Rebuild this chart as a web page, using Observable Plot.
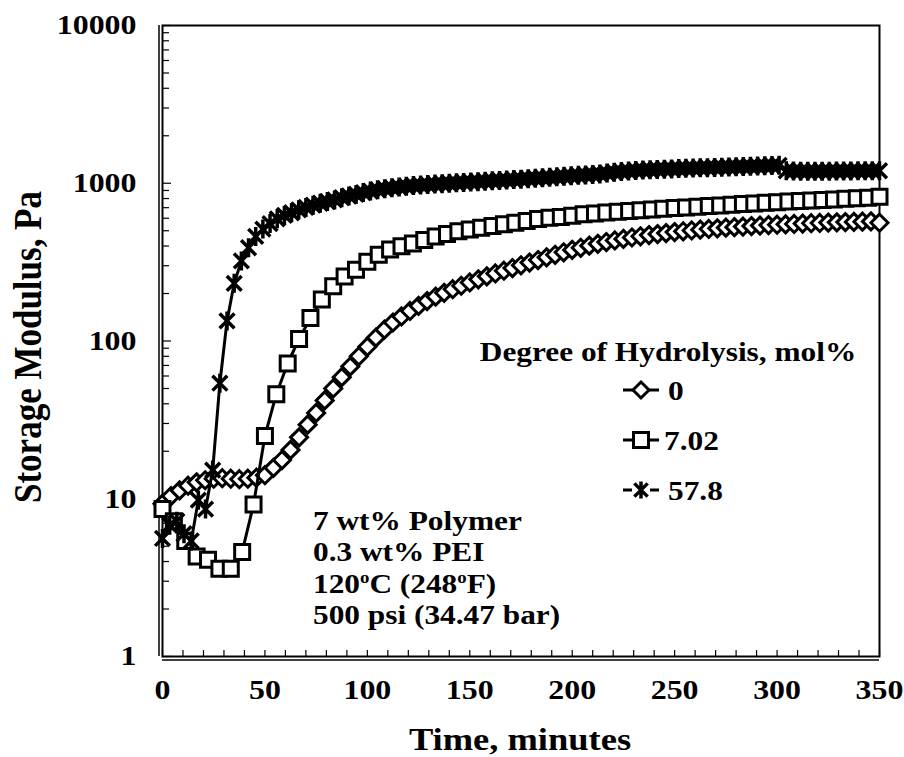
<!DOCTYPE html>
<html>
<head>
<meta charset="utf-8">
<script src="https://cdn.jsdelivr.net/npm/d3@7"></script>
<script src="https://cdn.jsdelivr.net/npm/@observablehq/plot@0.6"></script>
<style>
  body { margin: 0; background: #fff; }
  #chart svg { display: block; }
</style>
</head>
<body>
<div id="chart"></div>
<script>
// Degree of hydrolysis (mol%) of each polymer sample
const series = ["0", "7.02", "57.8"];

// Sampling times (minutes) of each rheometer run
const time0 = d3.range(0, 350.001, 50 / 12);
const time1 = d3.range(0, 350.001, 50 / 9);
const time2 = d3.range(0, 350.001, 3.5);

// Storage modulus G' (Pa), 0 mol% hydrolysis
const modulus0 = [9.3, 10.4, 11.3, 12.1, 12.7, 13.1, 13.4, 13.5, 13.4, 13.3,
  13.4, 13.6, 14.1, 15.7, 17.6, 20.4, 24.5, 29.5, 35, 42,
  50, 59, 69, 80, 92, 105, 118, 131, 143, 155,
  167, 179, 191, 202, 213, 224, 235, 246, 257, 268,
  279, 290, 302, 314, 326, 339, 352, 365, 378, 390,
  402, 413, 424, 434, 444, 453, 461, 469, 476, 483,
  490, 496, 502, 508, 513, 518, 523, 527, 531, 535,
  539, 543, 546, 549, 552, 555, 558, 560, 563, 565,
  567, 569, 571, 573, 562];

// Storage modulus G' (Pa), 7.02 mol% hydrolysis
const modulus1 = [8.6, 7.2, 5.4, 4.3, 4.1, 3.6, 3.6, 4.6, 9.2, 25,
  46, 72, 103, 140, 183, 222, 256, 283, 318, 352,
  380, 398, 415, 437, 460, 476, 496, 510, 523, 535,
  550, 562, 576, 593, 605, 612, 622, 637, 644, 652,
  660, 667, 674, 681, 688, 696, 703, 710, 717, 724,
  731, 738, 745, 752, 759, 765, 771, 778, 784, 790,
  797, 803, 810, 821];

// Storage modulus G' (Pa), 57.8 mol% hydrolysis
const modulus2 = [5.6, 6.8, 7.2, 6.0, 5.4, 9.8, 8.6, 15.2, 54, 134,
  232, 322, 390, 460, 512, 555, 595, 625, 650, 678,
  703, 726, 747, 766, 784, 810, 830, 850, 873, 892,
  910, 924, 936, 947, 957, 966, 974, 981, 988, 994,
  1000, 1006, 1012, 1018, 1024, 1030, 1036, 1042, 1048, 1055,
  1062, 1069, 1076, 1083, 1090, 1098, 1106, 1114, 1122, 1130,
  1138, 1146, 1160, 1175, 1185, 1195, 1205, 1212, 1218, 1223,
  1228, 1233, 1238, 1243, 1248, 1252, 1256, 1260, 1264, 1268,
  1272, 1276, 1280, 1285, 1290, 1295, 1300, 1200, 1195, 1192,
  1190, 1190, 1192, 1193, 1195, 1196, 1197, 1198, 1199, 1200, 1200];

// Axis ticks
const xLabelTicks = [0, 50, 100, 150, 200, 250, 300, 350];
const xMinorTicks = d3.range(0, 351, 10);
const yLabelTicks = [1, 10, 100, 1000, 10000];
const yMinorTicks = [1, 10, 100, 1000].flatMap(d => [2, 3, 4, 5, 6, 7, 8, 9].map(k => k * d));

const rows = (times, values) => times.map((t, i) => ({t, g: values[i]}));
const data0 = rows(time0, modulus0);
const data1 = rows(time1, modulus1);
const data2 = rows(time2, modulus2);

// Marker shapes (size = pi * r^2, so half-extent = r)
const openDiamond = {
  draw(ctx, size) {
    const h = Math.sqrt(size / Math.PI);
    ctx.moveTo(0, -h); ctx.lineTo(h, 0); ctx.lineTo(0, h); ctx.lineTo(-h, 0); ctx.closePath();
  }
};
const openSquare = {
  draw(ctx, size) {
    const h = Math.sqrt(size / Math.PI);
    ctx.moveTo(-h, -h); ctx.lineTo(h, -h); ctx.lineTo(h, h); ctx.lineTo(-h, h); ctx.closePath();
  }
};
const star = {
  draw(ctx, size) {
    const h = Math.sqrt(size / Math.PI), d = h * 0.78;
    ctx.moveTo(-d, -d); ctx.lineTo(d, d);
    ctx.moveTo(-d, d); ctx.lineTo(d, -d);
    ctx.moveTo(0, -h); ctx.lineTo(0, h);
  }
};

const font = "'Liberation Serif', 'Times New Roman', serif";
const stretch = 1.14;

const chart = Plot.plot({
  width: 904,
  height: 757,
  marginTop: 25,
  marginBottom: 101,
  marginLeft: 162,
  marginRight: 25,
  style: {fontFamily: font, fontWeight: "bold", background: "#fff", color: "#000", overflow: "visible"},
  x: {domain: [0, 350]},
  y: {type: "log", domain: [1, 10000]},
  marks: [
    Plot.frame({stroke: "#000", strokeWidth: 2}),
    Plot.ruleX([0], {dx: -3.5, stroke: "#000", strokeWidth: 1.5}),
    Plot.ruleY([1], {dy: 3.5, stroke: "#000", strokeWidth: 1.5}),
    Plot.axisY({ticks: yLabelTicks, tickSize: 0, tickPadding: 26, tickFormat: d => String(d),
      fontSize: 28, fontWeight: "bold", label: null}),
    Plot.axisY({ticks: yLabelTicks, tickSize: -9, tickFormat: () => "", label: null, strokeWidth: 1.2}),
    Plot.axisY({ticks: yMinorTicks, tickSize: -7, tickFormat: () => "", label: null, strokeWidth: 1.2}),
    Plot.axisX({ticks: xLabelTicks, tickSize: 0, tickPadding: 23, tickFormat: d => String(d),
      fontSize: 28, fontWeight: "bold", label: null}),
    Plot.axisX({ticks: xMinorTicks, tickSize: -6, tickFormat: () => "", label: null, strokeWidth: 1.2}),

    Plot.line(data0, {x: "t", y: "g", stroke: "#000", strokeWidth: 3}),
    Plot.dot(data0, {x: "t", y: "g", symbol: openDiamond, r: 8.5, fill: "#fff", stroke: "#000", strokeWidth: 3}),
    Plot.line(data1, {x: "t", y: "g", stroke: "#000", strokeWidth: 3}),
    Plot.dot(data1, {x: "t", y: "g", symbol: openSquare, r: 7.5, fill: "#fff", stroke: "#000", strokeWidth: 3}),
    Plot.line(data2, {x: "t", y: "g", stroke: "#000", strokeWidth: 3}),
    Plot.dot(data2, {x: "t", y: "g", symbol: star, r: 9.5, fill: "none", stroke: "#000", strokeWidth: 3.5})
  ]
});

document.getElementById("chart").appendChild(chart);
const svg = d3.select(chart);

// Slightly widened serif lettering for the tick labels
svg.selectAll("g[aria-label$='tick label'] text").each(function () {
  const tr = this.getAttribute("transform") || "";
  this.setAttribute("transform", tr + ` scale(${stretch},1)`);
});

const addText = (x, y, size, anchor, parts, extra = "") => {
  const t = svg.append("text")
    .attr("transform", `translate(${x},${y}) scale(${stretch},1)${extra}`)
    .attr("font-family", font)
    .attr("font-weight", "bold")
    .attr("font-size", size)
    .attr("text-anchor", anchor)
    .attr("fill", "#000");
  for (const p of [].concat(parts)) {
    if (typeof p === "string") t.append("tspan").text(p);
    else t.append("tspan").attr("baseline-shift", "super").attr("font-size", size * 0.6).text(p.sup);
  }
  return t;
};

// Axis titles
addText(520, 750, 32, "middle", "Time, minutes");
addText(41, 347, 35, "middle", "Storage Modulus, Pa", " rotate(-90)");

// Legend
addText(668, 361, 27.5, "middle", "Degree of Hydrolysis, mol%");
const legendRows = [
  {label: series[0], symbol: openDiamond, r: 8, fill: "#fff", sw: 3, y: 390, dashed: false, lx: 668},
  {label: series[1], symbol: openSquare, r: 7.5, fill: "#fff", sw: 3, y: 440, dashed: false, lx: 664},
  {label: series[2], symbol: star, r: 8.5, fill: "none", sw: 3.5, y: 490, dashed: true, lx: 668}
];
const mx = 641;
for (const row of legendRows) {
  const segs = row.dashed ? [[623, 632], [650, 659]] : [[623, 659]];
  for (const [a, b] of segs) {
    svg.append("line").attr("x1", a).attr("x2", b).attr("y1", row.y).attr("y2", row.y)
      .attr("stroke", "#000").attr("stroke-width", 3);
  }
  svg.append("path")
    .attr("d", d3.symbol(row.symbol, Math.PI * row.r * row.r)())
    .attr("transform", `translate(${mx},${row.y})`)
    .attr("fill", row.fill).attr("stroke", "#000").attr("stroke-width", row.sw);
  addText(row.lx, row.y + 9.5, 27.5, "start", row.label);
}

// Test conditions
const notes = [
  ["7 wt% Polymer"],
  ["0.3 wt% PEI"],
  ["120", {sup: "o"}, "C (248", {sup: "o"}, "F)"],
  ["500 psi (34.47 bar)"]
];
notes.forEach((parts, i) => addText(313, 529.5 + i * 31.5, 27.5, "start", parts));
</script>
</body>
</html>
